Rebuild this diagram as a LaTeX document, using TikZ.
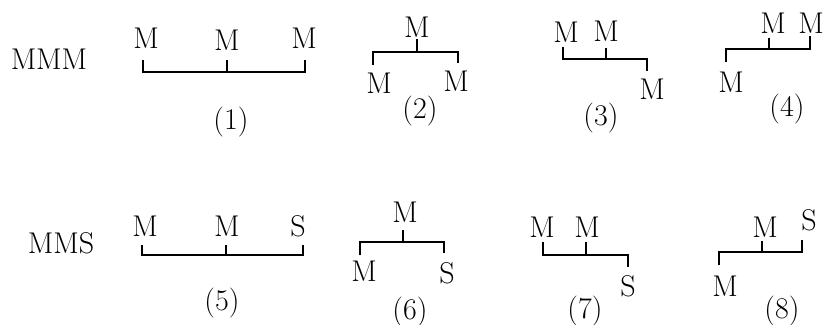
\documentclass[tikz,border=0pt]{standalone}
\usepackage{fontspec}
\usepackage{tikz}
\usetikzlibrary{positioning}

\begin{document}
\begin{tikzpicture}[x=0.5pt,y=-0.5pt,font=\fontsize{15pt}{18pt}\selectfont,inner sep=0pt]
\tikzstyle{bar}=[black, line width=1pt]
\useasboundingbox (0,0) rectangle (827,325);
% row labels
\node (rowA) at (49,59) {MMM};
\node (rowB) at (61,243) {MMS};
% (1)
\node (m1a) at (146,38) {M};
\node (m1b) at (227,40) {M};
\node (m1c) at (304,38) {M};
\coordinate (t1a) at (143,60);
\coordinate (t1b) at (227,60);
\coordinate (t1c) at (305,60);
\draw [bar] (t1a) -- ++(0,12) -| (t1c);
\draw [bar] (t1b) -- ++(0,12);
\node (lab1) at (231,122) {(1)};
% (2)
\node (m2a) at (417,27) {M};
\node (m2l) at (379,83) {M};
\node (m2r) at (456,81) {M};
\coordinate (t2a) at (417,39);
\coordinate (t2l) at (373,65);
\coordinate (t2r) at (458,63);
\draw [bar] (t2l) -- ++(0,-13) -| (t2r);
\draw [bar] (t2a) -- ++(0,13);
\node (lab2) at (420,111) {(2)};
% (3)
\node (m3a) at (566,32) {M};
\node (m3b) at (606,31) {M};
\node (m3r) at (652,89) {M};
\coordinate (t3a) at (563,47);
\coordinate (t3b) at (606,48);
\coordinate (t3r) at (647,71);
\draw [bar] (t3a) -- ++(0,12) -| (t3r);
\draw [bar] (t3b) -- ++(0,11);
\node (lab3) at (601,118) {(3)};
% (4)
\node (m4a) at (773,23) {M};
\node (m4b) at (811,23) {M};
\node (m4l) at (731,82) {M};
\coordinate (t4a) at (769,38);
\coordinate (t4b) at (810,36);
\coordinate (t4l) at (726,62);
\draw [bar] (t4l) -- ++(0,-13) -| (t4b);
\draw [bar] (t4a) -- ++(0,11);
\node (lab4) at (787,109) {(4)};
% (5)
\node (m5a) at (145,226) {M};
\node (m5b) at (227,226) {M};
\node (s5c) at (298,226) {S};
\coordinate (t5a) at (142,245);
\coordinate (t5b) at (226,245);
\coordinate (t5c) at (303,245);
\draw [bar] (t5a) -- ++(0,10) -| (t5c);
\draw [bar] (t5b) -- ++(0,10);
\node (lab5) at (222,303) {(5)};
% (6)
\node (m6a) at (405,212) {M};
\node (m6l) at (364,271) {M};
\node (s6r) at (447,273) {S};
\coordinate (t6a) at (403,230);
\coordinate (t6l) at (360,255);
\coordinate (t6r) at (444,253);
\draw [bar] (t6l) -- ++(0,-13) -| (t6r);
\draw [bar] (t6a) -- ++(0,12);
\node (lab6) at (410,312) {(6)};
% (7)
\node (m7a) at (542,227) {M};
\node (m7b) at (587,227) {M};
\node (s7r) at (628,286) {S};
\coordinate (t7a) at (543,242);
\coordinate (t7b) at (586,242);
\coordinate (t7r) at (628,267);
\draw [bar] (t7a) -- ++(0,13) -| (t7r);
\draw [bar] (t7b) -- ++(0,13);
\node (lab7) at (585,311) {(7)};
% (8)
\node (m8a) at (765,227) {M};
\node (s8b) at (809,220) {S};
\node (m8l) at (725,286) {M};
\coordinate (t8a) at (762,241);
\coordinate (t8b) at (802,240);
\coordinate (t8l) at (719,265);
\draw [bar] (t8l) -- ++(0,-13) -| (t8b);
\draw [bar] (t8a) -- ++(0,11);
\node (lab8) at (782,311) {(8)};
\end{tikzpicture}
\end{document}
